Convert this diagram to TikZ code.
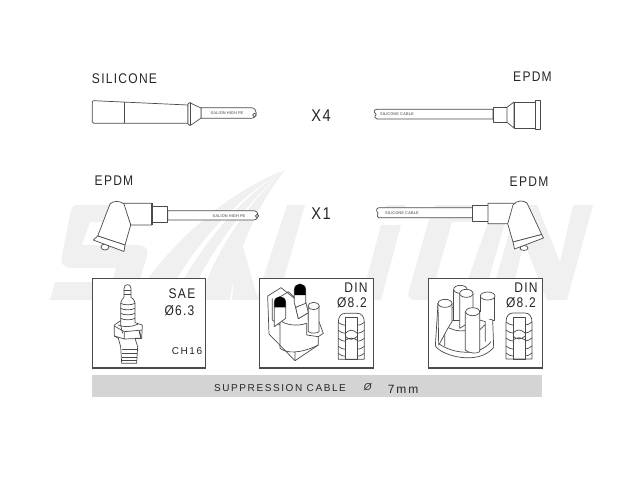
\documentclass[tikz,border=0pt]{standalone}
\usepackage{fontspec}
\setmainfont{Liberation Sans}
\newfontfamily\spaced[LetterSpace=9,FakeStretch=0.86]{Liberation Sans}
\newfontfamily\wide[LetterSpace=16]{Liberation Sans}
\usetikzlibrary{positioning}
\definecolor{inkgray}{HTML}{4A4A4A}
\definecolor{markgray}{HTML}{F0F0F0}
\definecolor{bargray}{HTML}{D4D4D4}
\tikzset{
  part/.style={draw=inkgray,line width=0.7pt,fill=white,line join=round},
  detail/.style={draw=inkgray,line width=0.7pt,line join=round},
  framebox/.style={draw=inkgray,line width=1.1pt,fill=white},
  caption/.style={font=\spaced\fontsize{14}{14}\selectfont,text=black!85,inner sep=0pt},
  bigcaption/.style={caption,font=\spaced\fontsize{17}{17}\selectfont},
  tinyprint/.style={font=\fontsize{4}{4}\selectfont\bfseries,text=black!50,inner sep=0pt},
}
\newcommand{\bushing}[2]{%
  \begin{scope}[shift={(#1,#2)}]
    \draw [part] (0,9) .. controls (0,3) and (3,0) .. (7,0) -- (19,0) .. controls (23,0) and (26,3) .. (26,9) -- (26,46) -- (0,46) -- cycle;
    \foreach \ringy in {9,17,25,33,40}
      \draw [detail] (0,\ringy) .. controls (2,\ringy+2) and (5,\ringy+3) .. (7,\ringy+3) (19,\ringy+3) .. controls (21,\ringy+3) and (24,\ringy+2) .. (26,\ringy);
    \draw [detail] (7,4) rectangle (19,46);
    \draw [detail] (7,20) .. controls (11,16) and (15,16) .. (19,20) (7,23) .. controls (11,27) and (15,27) .. (19,23) (7,27) .. controls (11,24) and (15,24) .. (19,27);
  \end{scope}}
\begin{document}
\begin{tikzpicture}[x=1pt,y=-1pt]
  \useasboundingbox (0,0) rectangle (644,483);

  % watermark
  \fill [markgray] (76,205) -- (150,205) -- (144,222) -- (90,222) -- (82,245) -- (136,245) .. controls (146,245) and (149,250) .. (147,256) -- (137,290) .. controls (135,297) and (130,300) .. (124,300) -- (50,300) -- (55,282) -- (112,282) -- (116,268) -- (72,268) .. controls (62,268) and (60,262) .. (62,255) -- (70,215) .. controls (71,208) and (73,205) .. (76,205) -- cycle;
  \fill [markgray] (133,300) .. controls (165,250) and (220,195) .. (285,170) .. controls (235,198) and (190,250) .. (165,300) -- cycle;
  \fill [markgray] (172,300) .. controls (195,255) and (235,200) .. (285,170) .. controls (245,203) and (208,255) .. (188,300) -- cycle;
  \fill [markgray] (200,300) .. controls (212,260) and (240,210) .. (285,170) .. controls (255,208) and (236,255) .. (230,300) -- cycle;
  \fill [markgray] (232,300) -- (237,225) -- (258,300) -- cycle;
  \fill [markgray] (287,205) -- (305,205) -- (283,282) -- (340,282) -- (335,300) -- (256,300) -- cycle;
  \fill [markgray] (386,205) -- (406,205) -- (402,218) -- (382,218) -- cycle;
  \fill [markgray] (381,225) -- (401,225) -- (381,300) -- (361,300) -- cycle;
  \fill [markgray] (438,205) -- (500,205) .. controls (506,205) and (509,210) .. (507,216) -- (487,285) .. controls (484,296) and (478,300) .. (470,300) -- (415,300) .. controls (409,300) and (407,296) .. (409,290) -- (430,216) .. controls (432,209) and (434,205) .. (438,205) -- cycle;
  \fill [white] (452,222) -- (488,222) -- (467,282) -- (435,282) -- cycle;
  \fill [markgray] (517,205) -- (537,205) -- (560,262) -- (573,205) -- (593,205) -- (567,300) -- (547,300) -- (524,242) -- (510,300) -- (490,300) -- cycle;

  % top left wire
  \draw [part] (201,107.7) -- (251,107.7) .. controls (258,107.7) and (258,118.3) .. (251,118.3) -- (201,118.3) -- cycle;
  \draw [part] (92.3,102.5) .. controls (92.3,101) and (93,100.7) .. (94,100.7) -- (188,105) -- (188,123.3) -- (94,123.3) .. controls (93,123.3) and (92.3,123) .. (92.3,122) -- cycle;
  \draw [detail] (124.3,102.2) -- (124.3,123.3);
  \draw [part] (188,104) .. controls (189,102) and (191,102) .. (192.5,104) -- (201,108) -- (201,118) -- (192.5,124) .. controls (191,126) and (189,126) .. (188,124) -- cycle;
  \draw [detail] (190,103) -- (190,125);
  \node [tinyprint] (printa) at (227,113.3) {SALION HIGH PE};
  \draw [part] (254.5,115) circle (1.8);

  % top right wire
  \draw [part] (377,109.3) -- (493,109.3) -- (493,119) -- (377,119) .. controls (372,117) and (377,115) .. (376,114) .. controls (373,112) and (374,109.3) .. (377,109.3) -- cycle;
  \node [tinyprint] (printb) at (397,114.3) {SILICONE CABLE};
  \draw [part] (493,107.3) rectangle (507,122.3);
  \draw [part] (507,107.3) -- (514,102) -- (514,128) -- (507,122.3) -- cycle;
  \draw [part] (514,102) rectangle (535,128);
  \draw [part] (535,100) rectangle (540.5,129.3);

  % middle left wire
  \draw [part] (167.7,210.7) -- (253,210.7) .. controls (260,210.7) and (260,220) .. (253,220) -- (167.7,220) -- cycle;
  \node [tinyprint] (printc) at (229,215.7) {SALION HIGH PE};
  \draw [part] (257,216) circle (1.7);
  \draw [part] (151.7,206.3) rectangle (167.7,222.3);
  \draw [part] (123,203.3) -- (151.7,203.3) -- (151.7,225) -- (130.7,225) -- cycle;
  \draw [inkgray,line width=1.6pt] (151.7,203.3) -- (151.7,225);
  \draw [part] (105,247) ellipse (4 and 3);
  \draw [part] (97.7,236) -- (110,204) .. controls (113,200.5) and (120,200.5) .. (124,204) -- (130.7,225) -- (125,245) -- cycle;
  \draw [part] (97.7,236) -- (125,245) -- (124,251.5) -- (93.3,240) -- cycle;

  % middle right wire
  \draw [part] (379,207.7) -- (472.7,207.7) -- (472.7,217.7) -- (379,217.7) .. controls (375,216) and (379,214) .. (378,213) .. controls (376,211) and (376,208) .. (379,207.7) -- cycle;
  \node [tinyprint] (printd) at (402,213) {SILICONE CABLE};
  \draw [part] (472.7,205.7) rectangle (488,221);
  \draw [part] (488,203.3) -- (516,203.3) -- (508,223.7) -- (488,223.7) -- cycle;
  \draw [part] (524,248) ellipse (4 and 2.5);
  \draw [part] (541.7,234.5) -- (527,203) .. controls (523,200) and (517,200) .. (513,205) -- (507.7,223.7) -- (513,242) -- cycle;
  \draw [part] (513,242) -- (541.7,234.5) -- (543.5,238) -- (514.5,249) -- cycle;

  % counts and materials
  \foreach \textname/\textpos/\textvalue in {silicone/{(124.5,79)}/SILICONE,epdma/{(532.5,77)}/EPDM,epdmb/{(114,181)}/EPDM,epdmc/{(529,182)}/EPDM}
    \node [caption] (\textname) at \textpos {\textvalue};
  \foreach \textname/\textpos/\textvalue in {counta/{(321,116)}/X4,countb/{(321,214)}/X1}
    \node [bigcaption] (\textname) at \textpos {\textvalue};

  % fitting boxes
  \foreach \boxname/\boxa/\boxb in {plugbox/92.3/205.7,capbox/259.7/373.3,rotorbox/428.7/542.7}
    \draw [framebox] (\boxa,278.3) rectangle (\boxb,368);

  % spark plug
  \begin{scope}[shift={(85,270)},scale=1/3]
    \draw [part] (113,190) -- (107,165) -- (107,100) .. controls (110,88) and (114,85) .. (117,82) -- (117,55) .. controls (117,40) and (138,40) .. (138,55) -- (138,82) .. controls (142,85) and (148,88) .. (150,100) -- (150,158) -- (172,165) -- (170,205) -- (150,205) -- (158,230) -- (155,280) -- (110,280) -- (107,230) -- (100,205) -- (88,198) -- (88,165) -- (107,152);
    \draw [detail] (117,62) -- (138,62) (117,74) -- (138,74);
    \foreach \threadz in {100,115,130,145}
      \draw [detail] (107,\threadz) .. controls (118,\threadz+6) and (138,\threadz+6) .. (150,\threadz);
    \draw [detail] (88,168) -- (118,185) -- (172,180) (118,185) -- (118,207) (88,198) -- (118,207) -- (170,205);
    \draw [detail] (100,165) .. controls (115,172) and (140,172) .. (160,162);
    \foreach \threadz in {238,250,262,272}
      \draw [detail] (110,\threadz) -- (155,\threadz);
    \draw [line width=1.2pt,inkgray] (163,182) -- (168,205);
  \end{scope}
  \node [caption] (sae) at (182,294) {SAE};
  \node [caption] (saesize) at (179.5,311) {Ø6.3};
  \node [caption,font=\wide\fontsize{10}{10}\selectfont] (chsize) at (187,351) {CH16};

  % distributor cap
  \begin{scope}[shift={(255,270)},scale=1/3]
    \draw [part] (38,78) -- (78,53) -- (122,88) -- (122,112) -- (130,146) -- (160,128) -- (160,150) -- (190,150) -- (205,190) -- (190,200) -- (190,225) -- (120,272) -- (42,192) -- cycle;
    \draw [detail] (75,235) .. controls (95,250) and (135,252) .. (190,225) (75,150) -- (75,235) (120,272) -- (120,245);
    \draw [detail] (75,150) .. controls (90,165) and (125,170) .. (155,160) (155,160) -- (155,195) -- (190,200);
    \draw [detail] (52,85) -- (52,150) -- (75,165) (60,90) -- (100,65) -- (125,88);
    \draw [part] (122,112) -- (152,95) -- (160,128) -- (130,146) -- cycle;
    \draw [part] (160,108) -- (160,185) .. controls (170,192) and (185,190) .. (192,185) -- (192,108) -- cycle;
    \draw [part] (176,108) ellipse (17 and 11);
    \draw [part] (118,100) -- (118,60) .. controls (118,36) and (152,36) .. (152,60) -- (152,100) -- (122,112) -- cycle;
    \fill [black] (118,75) -- (118,60) .. controls (118,36) and (152,36) .. (152,60) -- (152,75) -- cycle;
    \draw [part] (58,170) -- (58,98) .. controls (58,74) and (92,74) .. (92,98) -- (92,145) -- cycle;
    \fill [black] (58,112) -- (58,98) .. controls (58,74) and (92,74) .. (92,98) -- (92,112) -- cycle;
  \end{scope}
  \bushing{338.3}{313.3}
  \node [caption] (dina) at (356,288) {DIN};
  \node [caption] (dinasize) at (352,303) {Ø8.2};

  % rotor cap
  \begin{scope}[shift={(422,270)},scale=1/3]
    \draw [part] (40,228) .. controls (60,258) and (170,288) .. (215,232) -- (212,150) -- (48,100) -- cycle;
    \draw [detail] (52,222) .. controls (90,250) and (170,262) .. (207,215);
    \draw [detail] (68,165) -- (68,228) (68,165) .. controls (85,150) and (100,150) .. (115,150);
    \draw [detail] (68,165) .. controls (85,180) and (110,185) .. (130,182);
    \draw [detail] (173,150) -- (190,155) -- (190,215) (173,180) -- (188,165);
    \draw [part] (95,150) -- (95,58) -- (135,58) -- (135,150) -- cycle;
    \draw [part] (115,58) ellipse (20 and 12);
    \draw [part] (113,175) -- (113,70) -- (153,70) -- (153,150) -- cycle;
    \draw [part] (133,70) ellipse (20 and 12);
    \fill [white] (175,78) rectangle (218,148);
    \draw [detail] (175,125) -- (175,78) (218,78) -- (218,150) -- (212,150);
    \draw [part] (197,78) ellipse (22 and 12);
    \draw [part] (48,100) -- (50,225) .. controls (60,210) and (70,185) .. (90,155) -- (90,100);
    \draw [part] (69,100) ellipse (21 and 12);
    \draw [part] (130,125) -- (130,240) .. controls (140,250) and (165,252) .. (173,245) -- (173,125) -- cycle;
    \draw [part] (152,125) ellipse (21 and 12);
  \end{scope}
  \bushing{506}{313}
  \node [caption] (dinb) at (526,288) {DIN};
  \node [caption] (dinbsize) at (521,303) {Ø8.2};

  % cable size bar
  \fill [bargray] (92.3,375) rectangle (542.3,396.7);
  \node [caption,font=\wide\fontsize{10}{10}\selectfont] (cablename) at (280,388) {SUPPRESSION CABLE};
  \node [caption,font=\fontsize{10}{10}\selectfont\itshape] (cableslash) at (367.7,387) {Ø};
  \node [caption,font=\wide\fontsize{12}{12}\selectfont] (cablesize) at (403,389) {7mm};
\end{tikzpicture}
\end{document}
